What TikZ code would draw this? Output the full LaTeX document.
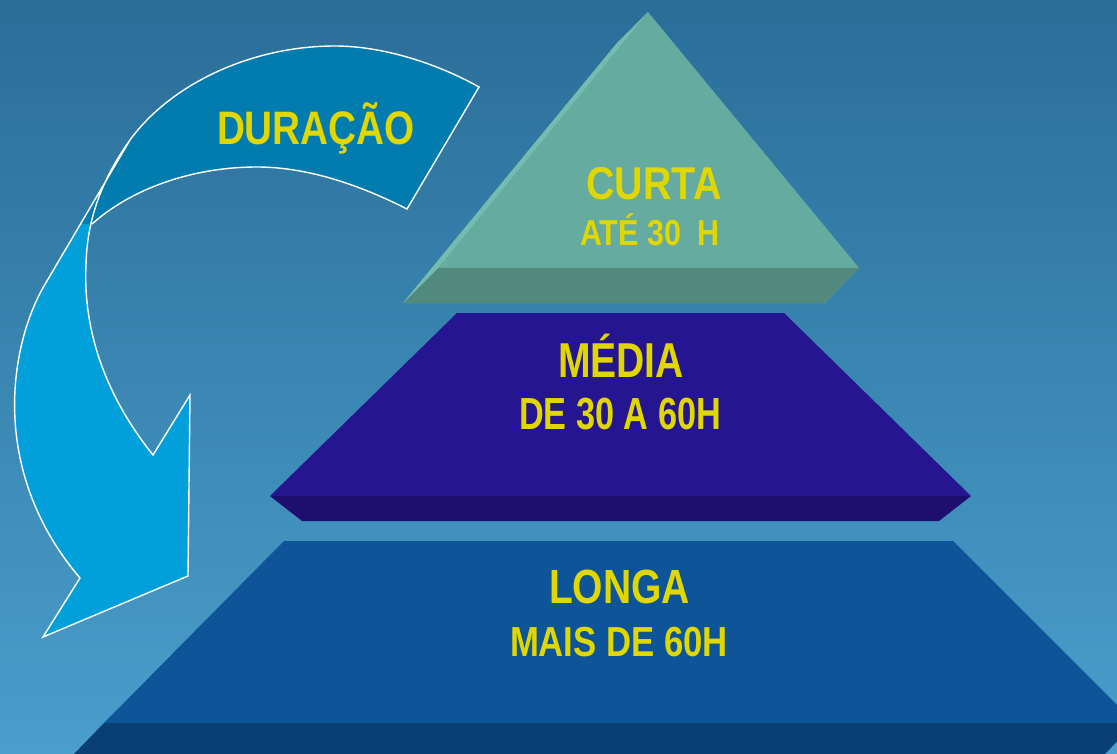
\documentclass[tikz,border=0pt]{standalone}
\usepackage{fontspec}
\setmainfont{Liberation Sans}
\usepackage{graphicx}
\definecolor{bgtop}{HTML}{2A6E98}
\definecolor{bgbot}{HTML}{4A9ECC}
\definecolor{faceA}{HTML}{66ABA0}
\definecolor{bandA}{HTML}{528A7E}
\definecolor{stripA}{HTML}{74BCB0}
\definecolor{faceB}{HTML}{261591}
\definecolor{bandB}{HTML}{1E0F6F}
\definecolor{faceC}{HTML}{0D5598}
\definecolor{bandC}{HTML}{0A3F74}
\definecolor{arrowdark}{HTML}{027BAF}
\definecolor{arrowlight}{HTML}{01A0DA}
\definecolor{txtyellow}{HTML}{E0D600}
\newcommand{\fit}[3]{\resizebox{#1pt}{\height}{\fontsize{#2}{#2}\selectfont\bfseries #3}}
\begin{document}
\begin{tikzpicture}[x=1pt,y=-1pt,
  lbl/.style={anchor=base,inner sep=0pt,text=txtyellow},
  outline/.style={draw=white,line width=1.4pt,line join=miter}]
\useasboundingbox (0,0) rectangle (1117,754);
\shade[top color=bgtop,bottom color=bgbot] (0,0) rectangle (1117,754);
\begin{scope}
\clip (0,0) rectangle (1117,754);
% bottom level
\fill[faceC] (284,541) -- (953,541) -- (1135,723) -- (104,723) -- cycle;
\fill[bandC] (104,723) -- (1135,723) -- (1103,756) -- (72,756) -- cycle;
% middle level
\fill[faceB] (457,313) -- (784,313) -- (971,496) -- (270,496) -- cycle;
\fill[bandB] (270,496) -- (971,496) -- (939,521) -- (302,521) -- cycle;
% top level
\fill[faceA] (648,12) -- (859,268) -- (825,303) -- (403,303) -- (617,43) -- cycle;
\fill[bandA] (438,268) -- (859,268) -- (825,303) -- (403,303) -- cycle;
\fill[stripA] (403,303) -- (617,43) -- (648,12) -- (438,268) -- cycle;
\end{scope}
% curved arrow: dark tail band
\fill[arrowdark] (130,140) .. controls (170,85) and (250,46) .. (335,46)
  .. controls (385,46) and (440,65) .. (479,87) -- (407,209)
  .. controls (350,180) and (300,167) .. (257,167)
  .. controls (190,167) and (130,190) .. (92,224) -- (81,224) -- cycle;
% light head part
\fill[arrowlight] (81,224) -- (44,286) .. controls (10,345) and (-12,470) .. (80,578)
  -- (43,637) -- (188,576) -- (190,395) -- (153,455)
  .. controls (105,395) and (83,330) .. (86,265)
  .. controls (86.5,245) and (88,234) .. (92,224) -- cycle;
% outlines
\draw[outline] (130,140) .. controls (170,85) and (250,46) .. (335,46)
  .. controls (385,46) and (440,65) .. (479,87) -- (407,209)
  .. controls (350,180) and (300,167) .. (257,167)
  .. controls (190,167) and (130,190) .. (92,224);
\draw[outline] (130,140) -- (44,286) .. controls (10,345) and (-12,470) .. (80,578)
  -- (43,637) -- (188,576) -- (190,395) -- (153,455)
  .. controls (105,395) and (83,330) .. (86,265)
  .. controls (87,215) and (105,175) .. (130,140);
% texts
\node[lbl] (dur) at (316,145) {\fit{198}{47}{DURAÇÃO}};
\node[lbl] (curta) at (654,200) {\fit{135}{46}{CURTA}};
\node[lbl] (ate) at (650,246) {\fit{140}{36}{ATÉ 30\ \ H}};
\node[lbl] (media) at (621,377) {\fit{126}{49}{MÉDIA}};
\node[lbl] (de) at (620,429) {\fit{202}{45}{DE 30 A 60H}};
\node[lbl] (longa) at (619.5,603) {\fit{141}{48}{LONGA}};
\node[lbl] (mais) at (619,656) {\fit{218}{42}{MAIS DE 60H}};
\end{tikzpicture}
\end{document}
